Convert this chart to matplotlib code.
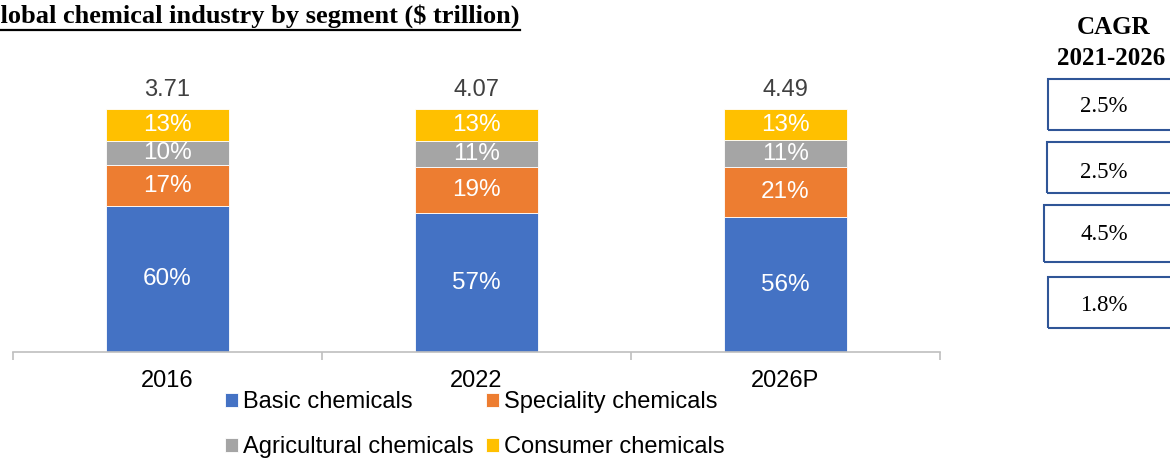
import matplotlib
matplotlib.use("Agg")
import matplotlib.pyplot as plt
from matplotlib.patches import Rectangle
from matplotlib.lines import Line2D
import numpy as np

categories = ["2016", "2022", "2026P"]
totals = [3.71, 4.07, 4.49]
segments = ["Basic chemicals", "Speciality chemicals", "Agricultural chemicals", "Consumer chemicals"]
basic = [60, 57, 56]
speciality = [17, 19, 21]
agricultural = [10, 11, 11]
consumer = [13, 13, 13]
cagr_labels = ["2.5%", "2.5%", "4.5%", "1.8%"]

colors = ["#4472C4", "#ED7D31", "#A5A5A5", "#FFC000"]

W, H = 1170, 458
fig = plt.figure(figsize=(W / 100, H / 100), dpi=100)
plt.rcParams['font.family'] = ['Liberation Sans', 'DejaVu Sans']
SERIF = ["Liberation Serif", "DejaVu Serif"]

ax = fig.add_axes([13 / W, (H - 352) / H, 927 / W, 243 / H])
x = np.arange(len(categories))
series = [basic, speciality, agricultural, consumer]
sums = np.sum(np.array(series, dtype=float), axis=0)
bottom = np.zeros(len(categories))
handles = []
for vals, col, name in zip(series, colors, segments):
    share = np.array(vals, dtype=float) / sums * 100
    b = ax.bar(x, share, width=0.4, bottom=bottom, color=col, edgecolor="white",
               linewidth=0.6, label=name)
    handles.append(b)
    for xi, bi, si, v in zip(x, bottom, share, vals):
        ax.text(xi, bi + si / 2, f"{v}%", ha="center", va="center", color="white",
                fontsize=17.5)
    bottom += share

for xi, t in zip(x, totals):
    ax.annotate(f"{t:.2f}", (xi, 100), xytext=(0, 6), textcoords="offset points",
                ha="center", va="bottom", fontsize=17, color="#404040",
                annotation_clip=False)

ax.set_xlim(-0.5, 2.5)
ax.set_ylim(0, 100)
for s in ["top", "right", "left"]:
    ax.spines[s].set_visible(False)
ax.spines["bottom"].set_color("#BFBFBF")
ax.spines["bottom"].set_linewidth(1.2)
ax.set_yticks([])
ax.set_xticks([-0.5, 0.5, 1.5, 2.5], minor=False)
ax.set_xticklabels([])
ax.tick_params(axis="x", which="major", length=6, color="#BFBFBF", width=1.2)
ax.set_xticks(x, minor=True)
ax.set_xticklabels(categories, minor=True, fontsize=17, color="#000000")
ax.tick_params(axis="x", which="minor", length=0, pad=13)

order = [0, 2, 1, 3]
leg = fig.legend([handles[i] for i in order], [segments[i] for i in order], ncol=2,
                 loc="upper left", bbox_to_anchor=(225 / W, 1 - 391 / H),
                 frameon=False, fontsize=17, handlelength=0.55, handleheight=0.55,
                 handletextpad=0.2, columnspacing=0.55, labelspacing=0.98,
                 borderpad=0, borderaxespad=0)

# Title with underline
title = fig.text(-20 / W, 1 - 23 / H, "Global chemical industry by segment ($ trillion)",
                 ha="left", va="baseline", fontsize=19, fontweight="bold",
                 family=SERIF)
fig.canvas.draw()
bb = title.get_window_extent()
fig.add_artist(Line2D([0, bb.x1 / W], [(H - 29.5) / H, (H - 29.5) / H],
                      color="black", linewidth=1.6, transform=fig.transFigure))

# CAGR side panel
fig.text(1114 / W, 1 - 34 / H, "CAGR", ha="center", va="baseline", fontsize=18,
         fontweight="bold", family=SERIF)
fig.text(1057 / W, 1 - 65 / H, "2021-2026", ha="left", va="baseline", fontsize=18,
         fontweight="bold", family=SERIF)
boxes = [(1048, 79, 130), (1047, 142, 193), (1044, 205, 262), (1048, 277, 328)]
baselines = [112, 178, 240, 311]
for (bx, top, bot), base, lab in zip(boxes, baselines, cagr_labels):
    r = Rectangle((bx / W, 1 - bot / H), (W + 20 - bx) / W, (bot - top) / H,
                  transform=fig.transFigure, fill=False, edgecolor="#2F5597",
                  linewidth=1.5)
    fig.add_artist(r)
    fig.text(1104 / W, 1 - base / H, lab, ha="center", va="baseline",
             fontsize=16.5, family=SERIF)

fig.savefig("out.png", dpi=100)
